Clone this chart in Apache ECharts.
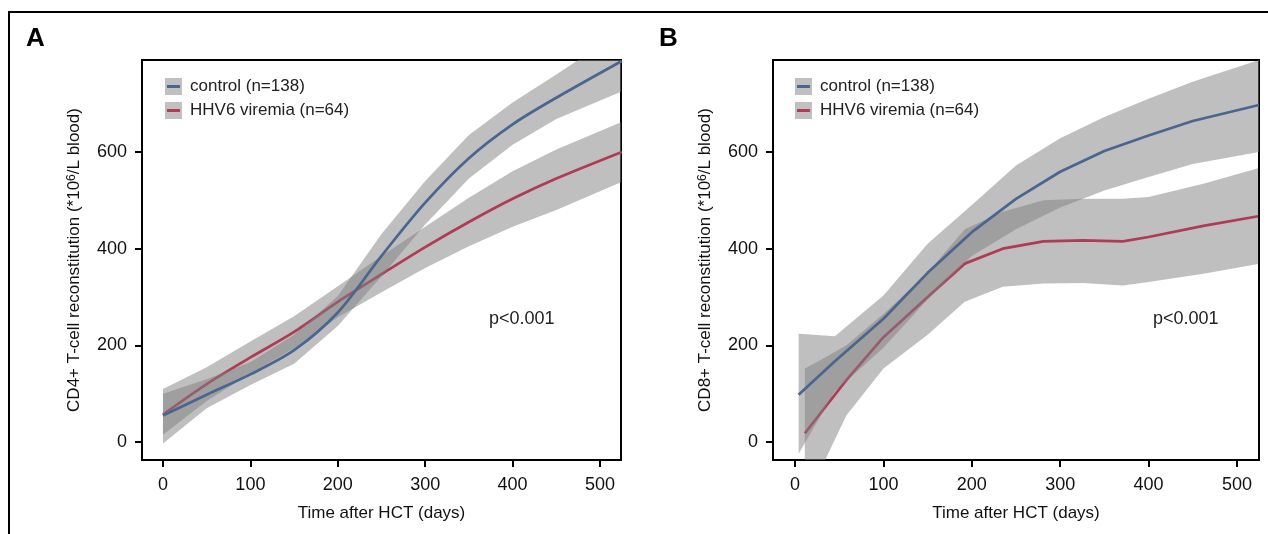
<!DOCTYPE html>
<html>
<head>
<meta charset="utf-8">
<script src="https://cdn.jsdelivr.net/npm/echarts@6/dist/echarts.min.js"></script>
<style>
  html, body { margin: 0; padding: 0; background: #fff; }
  #main { width: 1268px; height: 534px; }
</style>
</head>
<body>
<div id="main"></div>
<script>
// ticks
const xTicks = [0, 100, 200, 300, 400, 500]
const yTicks = [0, 200, 400, 600]

// panel A (CD4+)
const xCtrlA = [0, 50, 100, 150, 200, 250, 300, 350, 400, 450, 525]
const ctrlA = [55, 98, 140, 190, 268, 385, 495, 587, 657, 712, 788]
const ctrlLoA = [-3, 70, 118, 162, 240, 343, 450, 545, 615, 668, 725]
const ctrlHiA = [100, 130, 165, 222, 302, 430, 540, 635, 702, 760, 850]

const xHhvA = [0, 50, 100, 150, 200, 250, 300, 350, 400, 450, 525]
const hhvA = [57, 120, 175, 228, 290, 347, 403, 455, 503, 545, 600]
const hhvLoA = [15, 85, 142, 194, 258, 310, 360, 405, 445, 480, 538]
const hhvHiA = [110, 155, 208, 260, 322, 385, 445, 505, 560, 605, 662]

// panel B (CD8+)
const xCtrlB = [4, 45, 100, 150, 200, 250, 300, 350, 400, 450, 525]
const ctrlB = [98, 167, 255, 350, 434, 503, 559, 602, 634, 664, 697]
const ctrlLoB = [-24, 105, 195, 295, 385, 440, 485, 520, 548, 575, 600]
const ctrlHiB = [224, 219, 303, 410, 490, 572, 628, 672, 710, 745, 790]

const xHhvB = [11, 34, 58, 100, 150, 192, 235, 281, 326, 371, 400, 462, 524]
const hhvB = [18, 72, 128, 217, 300, 369, 400, 415, 417, 415, 424, 447, 467]
const hhvLoB = [-125, -37, 55, 152, 222, 290, 321, 328, 329, 324, 331, 348, 368]
const hhvHiB = [152, 175, 200, 265, 350, 440, 476, 500, 503, 503, 507, 534, 566]

const ctrlName = 'control (n=138)'
const hhvName = 'HHV6 viremia (n=64)'
const blue = '#4a6590'
const red = '#b13a55'
const sans = '"Liberation Sans", Arial, Helvetica, sans-serif'

function legendIcon(color) {
  const svg = "<svg xmlns='http://www.w3.org/2000/svg' width='17' height='17'>" +
    "<rect width='17' height='17' fill='#c0c0c0'/>" +
    "<rect x='2' y='7' width='13' height='3' fill='" + color + "'/></svg>"
  return 'image://data:image/svg+xml;charset=utf-8,' + encodeURIComponent(svg)
}

function xAxis(gridIndex, min, max) {
  return {
    type: 'value', gridIndex, min, max,
    axisLine: { show: false, onZero: false },
    splitLine: { show: false },
    axisTick: { show: true, length: 7, lineStyle: { color: '#000', width: 2 }, customValues: xTicks },
    axisLabel: { customValues: xTicks, margin: 16, fontSize: 18, fontFamily: sans, color: '#111' },
    name: 'Time after HCT (days)',
    nameLocation: 'middle', nameGap: 45, nameMoveOverlap: false,
    nameTextStyle: { fontSize: 17, fontFamily: sans, color: '#111' }
  }
}

function yAxis(gridIndex, cell) {
  return {
    type: 'value', gridIndex, min: -37, max: 790,
    axisLine: { show: false, onZero: false },
    splitLine: { show: false },
    axisTick: { show: true, length: 7, lineStyle: { color: '#000', width: 2 }, customValues: yTicks },
    axisLabel: { customValues: yTicks, margin: 15, fontSize: 18, fontFamily: sans, color: '#111' },
    name: cell + ' T-cell reconstitution (*10{sup|6}/L blood)',
    nameLocation: 'middle', nameRotate: 90, nameGap: 59, nameMoveOverlap: false,
    nameTextStyle: {
      fontSize: 17, fontFamily: sans, color: '#111',
      rich: { sup: { fontSize: 12, fontFamily: sans, color: '#111', verticalAlign: 'top' } }
    }
  }
}

function band(xs, lo, hi, idx, z) {
  return {
    type: 'custom', xAxisIndex: idx, yAxisIndex: idx, z, silent: true, clip: true,
    data: xs.map((x, i) => [x, lo[i], hi[i]]),
    encode: { x: 0, y: [1, 2] },
    renderItem: (params, api) => {
      if (params.dataIndex !== 0) return null
      const pts = []
      xs.forEach((x, i) => pts.push(api.coord([x, hi[i]])))
      for (let i = xs.length - 1; i >= 0; i--) pts.push(api.coord([xs[i], lo[i]]))
      return { type: 'polygon', shape: { points: pts }, style: { fill: 'rgba(128,128,128,0.5)' } }
    }
  }
}

function line(name, xs, ys, idx, color, z, smooth) {
  return {
    name, type: 'line', xAxisIndex: idx, yAxisIndex: idx, z, silent: true, clip: true,
    data: xs.map((x, i) => [x, ys[i]]),
    symbol: 'none', smooth,
    lineStyle: { color, width: 2.7 }, itemStyle: { color }
  }
}

function legend(left) {
  return {
    left, top: 78, padding: 0, orient: 'vertical', selectedMode: false,
    itemWidth: 17, itemHeight: 17, itemGap: 7,
    textStyle: { fontSize: 17, fontFamily: sans, color: '#222', padding: [0, 0, 0, 3] },
    data: [{ name: ctrlName, icon: legendIcon(blue) }, { name: hhvName, icon: legendIcon(red) }]
  }
}

const myChart = echarts.init(document.getElementById('main'), null, { renderer: 'canvas' })
const option = {
  animation: false,
  backgroundColor: '#fff',
  title: [
    { text: 'A', left: 26, top: 26, padding: 0, textStyle: { fontSize: 26, fontWeight: 'bold', fontFamily: sans, color: '#000' } },
    { text: 'B', left: 659, top: 26, padding: 0, textStyle: { fontSize: 26, fontWeight: 'bold', fontFamily: sans, color: '#000' } }
  ],
  legend: [legend(165), legend(795)],
  grid: [
    { left: 142, top: 60, width: 479, height: 400, show: true, borderColor: '#000', borderWidth: 2, backgroundColor: 'transparent', outerBoundsMode: 'none' },
    { left: 773, top: 60, width: 486, height: 400, show: true, borderColor: '#000', borderWidth: 2, backgroundColor: 'transparent', outerBoundsMode: 'none' }
  ],
  xAxis: [xAxis(0, -24, 524), xAxis(1, -25, 525)],
  yAxis: [yAxis(0, 'CD4+'), yAxis(1, 'CD8+')],
  series: [
    band(xHhvA, hhvLoA, hhvHiA, 0, 2),
    line(hhvName, xHhvA, hhvA, 0, red, 3, 0.3),
    band(xCtrlA, ctrlLoA, ctrlHiA, 0, 4),
    line(ctrlName, xCtrlA, ctrlA, 0, blue, 5, 0.3),
    band(xHhvB, hhvLoB, hhvHiB, 1, 2),
    line(hhvName, xHhvB, hhvB, 1, red, 3, false),
    band(xCtrlB, ctrlLoB, ctrlHiB, 1, 4),
    line(ctrlName, xCtrlB, ctrlB, 1, blue, 5, false)
  ],
  graphic: [
    { type: 'rect', silent: true, z: 10, shape: { x: 9, y: 12, width: 1300, height: 600 }, style: { fill: 'none', stroke: '#000', lineWidth: 2 } },
    { type: 'text', silent: true, left: 489, top: 310, style: { text: 'p<0.001', font: '18px ' + sans, fill: '#222' } },
    { type: 'text', silent: true, left: 1153, top: 310, style: { text: 'p<0.001', font: '18px ' + sans, fill: '#222' } }
  ]
}
myChart.setOption(option)
</script>
</body>
</html>
